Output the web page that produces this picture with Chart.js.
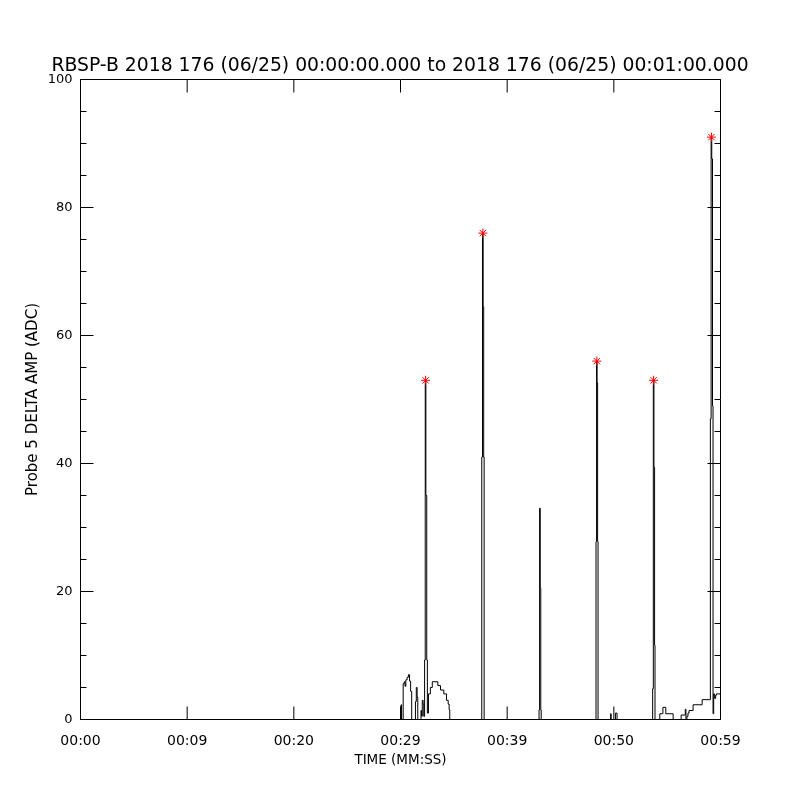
<!DOCTYPE html>
<html><head><meta charset="utf-8">
<script src="https://cdn.jsdelivr.net/npm/chart.js@4"></script>
<style>html,body{margin:0;padding:0;background:#fff}#wrap{width:800px;height:800px}</style>
</head><body><div id="wrap"><canvas id="c" width="800" height="800"></canvas></div>
<script>
// Sample times (s) and amplitudes (ADC); value holds until the next time
const times = [0, 30.05, 30.10, 30.25, 30.35, 30.42, 30.50, 30.62, 30.74, 30.85, 30.95, 31.05,
  31.40, 31.48, 31.56, 31.62, 31.92, 31.98, 32.04, 32.12, 32.18, 32.26, 32.32, 32.38, 32.46, 32.52,
  32.62, 32.80, 32.98, 33.50, 33.75, 34.06, 34.31, 34.47, 34.56, 34.62,
  37.62, 37.69, 37.75, 37.80, 37.84,
  42.99, 43.04, 43.10, 43.15, 43.19,
  48.33, 48.38, 48.43, 48.48, 48.52, 49.70, 49.75, 50.15, 50.30,
  53.64, 53.70, 53.76, 53.82, 53.86, 54.31, 54.60, 54.87, 55.56,
  56.31, 56.70, 56.76, 56.85, 56.95, 57.05, 57.43, 58.28,
  59.05, 59.12, 59.18, 59.25, 59.30, 59.36, 59.45, 59.55, 59.62, 60];
const amps = [0, 2.3, 0, 5.6, 5.9, 5.2, 6.2, 6.6, 7.0, 6.0, 4.4, 0,
  2.8, 5.0, 3.5, 0, 1.4, 0.5, 3.0, 2.4, 0.5, 9.3, 53, 35, 9.3, 1.0,
  4.0, 5.0, 5.9, 5.3, 4.6, 4.0, 3.0, 2.4, 1.5, 0,
  41, 76, 64.5, 41, 0,
  1.5, 33, 20.5, 1.5, 0,
  27.8, 56, 52.6, 27.8, 0, 0.9, 0, 1.0, 0,
  4.8, 53, 39.4, 11.6, 0, 0.9, 1.9, 0.9, 0,
  0.7, 1.6, 0, 0.5, 1.0, 1.4, 2.3, 3.1,
  47, 91, 87.6, 49, 0.9, 4.0, 3.3, 3.8, 4.0, 4.0];
// Peak markers
const peakTimes = [32.35, 37.72, 48.40, 53.73, 59.15];
const peakAmps = [53, 76, 56, 53, 91];
// Axes
const xTickValues = [0, 10, 20, 30, 40, 50, 60];
const xTickLabels = ['00:00', '00:09', '00:20', '00:29', '00:39', '00:50', '00:59'];
const yTickValues = [0, 20, 40, 60, 80, 100];
const yMinorValues = [0, 5, 10, 15, 20, 25, 30, 35, 40, 45, 50, 55, 60, 65, 70, 75, 80, 85, 90, 95, 100];
const titleText = 'RBSP-B 2018 176 (06/25) 00:00:00.000 to 2018 176 (06/25) 00:01:00.000';
const xTitle = 'TIME (MM:SS)';
const yTitle = 'Probe 5 DELTA AMP (ADC)';

const FONT = "'DejaVu Sans', sans-serif";

const framePlugin = {
  id: 'frame',
  afterDatasetsDraw(chart) {
    const {ctx, chartArea: a, scales: {x, y}} = chart;
    ctx.save();
    ctx.strokeStyle = '#000';
    ctx.lineWidth = 1;
    ctx.beginPath();
    ctx.rect(a.left, a.top, a.right - a.left, a.bottom - a.top);
    xTickValues.forEach(v => {
      const px = x.getPixelForValue(v);
      ctx.moveTo(px, a.bottom); ctx.lineTo(px, a.bottom - 13);
      ctx.moveTo(px, a.top); ctx.lineTo(px, a.top + 13);
    });
    yMinorValues.forEach(v => {
      const len = yTickValues.includes(v) ? 13 : 6;
      const py = y.getPixelForValue(v);
      ctx.moveTo(a.left, py); ctx.lineTo(a.left + len, py);
      ctx.moveTo(a.right, py); ctx.lineTo(a.right - len, py);
    });
    ctx.stroke();
    ctx.restore();
  }
};

new Chart(document.getElementById('c'), {
  type: 'line',
  data: {
    datasets: [
      {
        data: times.map((t, i) => ({x: t, y: amps[i]})),
        borderColor: '#000',
        borderWidth: 1,
        pointRadius: 0,
        stepped: 'before',
        fill: false,
        order: 2
      },
      {
        data: peakTimes.map((t, i) => ({x: t, y: peakAmps[i]})),
        showLine: false,
        pointStyle: 'star',
        pointRadius: 4.5,
        pointBorderColor: '#ff0000',
        pointBackgroundColor: '#ff0000',
        pointBorderWidth: 1,
        order: 1
      }
    ]
  },
  options: {
    responsive: false,
    animation: false,
    devicePixelRatio: 1,
    layout: {padding: 0},
    plugins: {
      legend: {display: false},
      tooltip: {enabled: false},
      title: {
        display: true,
        text: titleText,
        color: '#000',
        font: {family: FONT, size: 18.8, weight: 'normal', lineHeight: '20px'},
        padding: {top: 56, bottom: 3.5}
      }
    },
    scales: {
      x: {
        type: 'linear',
        min: 0, max: 60,
        afterFit(s) { s.height = 80.5; },
        afterBuildTicks(s) { s.ticks = xTickValues.map(v => ({value: v})); },
        grid: {display: false, drawTicks: false},
        border: {display: false},
        ticks: {
          color: '#000',
          font: {family: FONT, size: 14},
          padding: 13,
          maxRotation: 0,
          autoSkip: false,
          callback: (v, i) => xTickLabels[i]
        },
        title: {
          display: true, text: xTitle, color: '#000',
          font: {family: FONT, size: 13.5, lineHeight: '16px'},
          padding: {top: 0, bottom: 32}
        }
      },
      y: {
        type: 'linear',
        min: 0, max: 100,
        afterFit(s) { s.width = 80.5; },
        afterBuildTicks(s) { s.ticks = yTickValues.map(v => ({value: v})); },
        grid: {display: false, drawTicks: false},
        border: {display: false},
        ticks: {
          color: '#000',
          font: {family: FONT, size: 13},
          padding: 8,
          autoSkip: false,
          callback: v => String(v)
        },
        title: {
          display: true, text: yTitle, color: '#000',
          font: {family: FONT, size: 15, lineHeight: '16px'},
          padding: {top: 25, bottom: 0}
        }
      },
      yRight: {
        type: 'linear',
        position: 'right',
        min: 0, max: 100,
        display: true,
        afterFit(s) { s.width = 79.5; },
        grid: {display: false, drawTicks: false},
        border: {display: false},
        ticks: {display: false}
      }
    }
  },
  plugins: [framePlugin]
});
</script>
</body></html>
